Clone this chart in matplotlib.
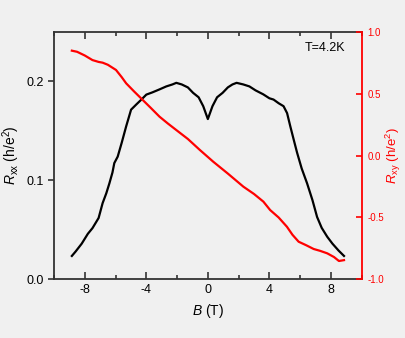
import matplotlib
matplotlib.use("Agg")
import matplotlib.pyplot as plt
from matplotlib.ticker import MultipleLocator

plt.rcParams['font.family'] = ['Liberation Sans', 'DejaVu Sans']
plt.rcParams['mathtext.fontset'] = 'custom'
plt.rcParams['mathtext.rm'] = 'Liberation Sans'
plt.rcParams['mathtext.it'] = 'Liberation Sans:italic'

# Rxx (h/e^2) vs B (T)
B_xx = [-8.84, -8.6, -8.2, -7.8, -7.5, -7.1, -6.84, -6.6, -6.4, -6.2, -6.08, -5.86, -5.6, -5.31,
        -4.99, -4.66, -4.3, -4.0, -3.6, -3.14, -2.7, -2.3, -2.05, -1.7, -1.3, -0.96, -0.6, -0.3, 0.0,
        0.3, 0.6, 0.96, 1.3, 1.6, 1.87, 2.3, 2.7, 3.1, 3.6, 4.0, 4.27, 4.6, 4.92, 5.15, 5.36, 5.6,
        5.8, 6.1, 6.45, 6.8, 7.1, 7.4, 7.76, 8.1, 8.5, 8.85]
R_xx = [0.0236, 0.028, 0.036, 0.046, 0.0517, 0.062, 0.077, 0.087, 0.097, 0.108, 0.1175, 0.124, 0.138, 0.1546,
        0.1715, 0.1766, 0.182, 0.1867, 0.189, 0.192, 0.195, 0.197, 0.1986, 0.197, 0.194, 0.1885, 0.184, 0.175, 0.162,
        0.175, 0.184, 0.1885, 0.194, 0.197, 0.1986, 0.197, 0.195, 0.191, 0.187, 0.183, 0.1817, 0.178, 0.175, 0.168, 0.1546, 0.14,
        0.128, 0.112, 0.097, 0.08, 0.063, 0.052, 0.043, 0.036, 0.029, 0.0236]

# Rxy (h/e^2) vs B (T)
B_xy = [-8.84, -8.5, -8.0, -7.5, -7.1, -6.84, -6.5, -5.97, -5.6, -5.31, -4.8, -4.23, -3.7, -3.14,
        -2.6, -2.05, -1.3, -0.52, 0.35, 1.3, 2.31, 3.0, 3.61, 4.05, 4.6, 5.14, 5.5, 5.9, 6.4,
        6.88, 7.3, 7.76, 8.2, 8.52, 8.85]
R_xy = [0.849, 0.84, 0.81, 0.773, 0.758, 0.752, 0.735, 0.693, 0.635, 0.585, 0.52, 0.45, 0.385, 0.315,
        0.26, 0.207, 0.135, 0.046, -0.049, -0.145, -0.251, -0.31, -0.372, -0.44, -0.5, -0.575, -0.64, -0.696, -0.725,
        -0.755, -0.77, -0.79, -0.82, -0.852, -0.845]

bg = '#f0f0f0'
fig = plt.figure(figsize=(4.06, 3.38), dpi=100, facecolor=bg)
ax = fig.add_axes([54/406, 1-279.3/338, 307.7/406, 247.3/338])
ax.set_facecolor(bg)
ax.plot(B_xx, R_xx, color='black', lw=1.6)
ax.set_xlim(-10, 10)
ax.set_ylim(0, 0.25)
ax.xaxis.set_minor_locator(MultipleLocator(2))
ax.set_xticks([-8, -4, 0, 4, 8])
ax.set_xticklabels(['-8', '-4', '0', '4', '8'])
ax.set_yticks([0.0, 0.1, 0.2])
ax.set_yticklabels(['0.0', '0.1', '0.2'])
ax.tick_params(axis='x', which='major', direction='in', length=5, width=1.2, top=True, labelsize=9, color='#333333')
ax.tick_params(axis='x', which='minor', direction='in', length=3, width=1.2, top=True, color='#333333')
ax.tick_params(axis='y', which='major', direction='out', length=4, width=1.2, labelsize=9, color='#333333')
for s in ['left', 'bottom', 'top']:
    ax.spines[s].set_color('#333333')
    ax.spines[s].set_linewidth(1.3)
ax.spines['right'].set_visible(False)
ax.set_xlabel('$B$ (T)', fontsize=10, labelpad=4)
ax.set_ylabel('$R_{\\rm xx}$ (h/e$^2$)', fontsize=10, labelpad=3)
ax.text(0.946, 0.96, 'T=4.2K', transform=ax.transAxes, ha='right', va='top', fontsize=9)

ax2 = ax.twinx()
ax2.plot(B_xy, R_xy, color='red', lw=1.6)
ax2.set_ylim(-1, 1)
ax2.set_yticks([-1.0, -0.5, 0.0, 0.5, 1.0])
ax2.set_yticklabels(['-1.0', '-0.5', '0.0', '0.5', '1.0'])
ax2.tick_params(axis='y', direction='in', length=4, width=1.2, colors='red', labelsize=7, pad=4)
ax2.spines['right'].set_color('red')
ax2.spines['right'].set_linewidth(1.3)
for s in ['left', 'bottom', 'top']:
    ax2.spines[s].set_visible(False)
ax2.set_ylabel('$R_{\\rm xy}$ (h/e$^2$)', fontsize=9.5, color='red', labelpad=0)

fig.savefig('out.png', dpi=100, facecolor=bg)
